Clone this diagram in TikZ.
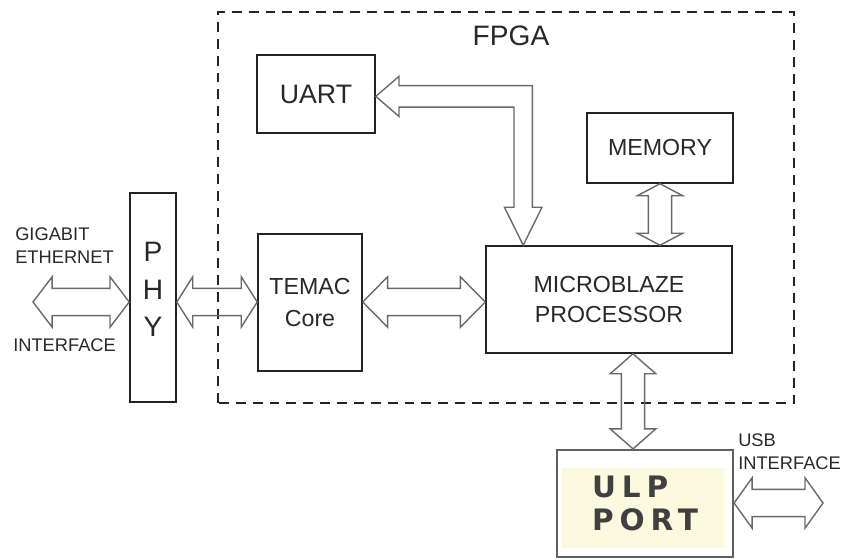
\documentclass[tikz,border=0pt]{standalone}
\usepackage{fontspec}
\setmainfont{Liberation Sans}
\newfontfamily\ulpfont[LetterSpace=20]{DejaVu Sans}
\usepackage{tikz}
\usetikzlibrary{calc, positioning}
\definecolor{boxline}{RGB}{35, 35, 35}
\definecolor{arrowline}{RGB}{105, 105, 105}
\definecolor{ulpyellow}{RGB}{251, 249, 222}
\definecolor{textdark}{RGB}{40, 40, 40}
\tikzset{
    block/.style={rectangle, draw=boxline, line width=1.1pt, fill=white, align=center, text=textdark, inner sep=0pt},
    blockarrow/.style={draw=arrowline, line width=1pt, line join=miter},
    tag/.style={text=textdark, inner sep=0pt, align=left, font=\fontsize{13}{17}\selectfont}
}
% horizontal double block arrow: [head length]{left tip}{right tip}
\newcommand{\harrow}[3][0.5cm]{%
  \draw[blockarrow] let \p1=#2, \p2=#3 in
    (\x1,\y1) -- (\x1+#1,\y1+0.63cm) -- (\x1+#1,\y1+0.34cm) -- (\x2-#1,\y1+0.34cm) -- (\x2-#1,\y1+0.63cm)
    -- (\x2,\y1) -- (\x2-#1,\y1-0.63cm) -- (\x2-#1,\y1-0.34cm) -- (\x1+#1,\y1-0.34cm) -- (\x1+#1,\y1-0.63cm) -- cycle;}
% vertical double block arrow: [head length]{top tip}{bottom tip}
\newcommand{\varrow}[3][0.5cm]{%
  \draw[blockarrow] let \p1=#2, \p2=#3 in
    (\x1,\y1) -- (\x1+0.57cm,\y1-#1) -- (\x1+0.29cm,\y1-#1) -- (\x1+0.29cm,\y2+#1) -- (\x1+0.57cm,\y2+#1)
    -- (\x1,\y2) -- (\x1-0.57cm,\y2+#1) -- (\x1-0.29cm,\y2+#1) -- (\x1-0.29cm,\y1-#1) -- (\x1-0.57cm,\y1-#1) -- cycle;}

\begin{document}
\begin{tikzpicture}
    \useasboundingbox (0,0) rectangle (21.125,14);

    % --- FPGA REGION ---
    \draw[boxline, line width=1.4pt, dash pattern=on 7pt off 5pt] (5.45,3.925) rectangle (19.85,13.7);
    \node[font=\fontsize{20}{24}\selectfont, text=textdark] (fpga) at (12.775,13.11) {FPGA};

    % --- BLOCKS ---
    \node[block, minimum width=2.95cm, minimum height=1.95cm, font=\fontsize{19}{23}\selectfont] (uart) at (7.9,11.65) {UART};
    \node[block, minimum width=3.65cm, minimum height=1.75cm, font=\fontsize{16.5}{20}\selectfont] (memory) at (16.5,10.3) {MEMORY};
    \node[block, minimum width=6.15cm, minimum height=2.675cm, font=\fontsize{16.5}{21}\selectfont] (micro) at (15.225,6.5125) {MICROBLAZE\\PROCESSOR};
    \node[block, minimum width=2.6cm, minimum height=3.425cm, font=\fontsize{16.5}{22.5}\selectfont] (temac) at (7.75,6.4375) {TEMAC\\Core};
    \node[block, minimum width=1.15cm, minimum height=5.225cm, text depth=0.4cm, font=\fontsize{20}{26.5}\selectfont] (phy) at (3.825,6.5625) {P\\H\\Y};

    % ULP port with its yellow panel
    \node[block, draw=gray!75!black, line width=1.6pt, minimum width=4.4cm, minimum height=2.675cm, align=left, text=black!75,
          font=\fontsize{21}{24}\selectfont\ulpfont\bfseries,
          path picture={\fill[ulpyellow] ($(path picture bounding box.south west)+(0.125,0.225)$) rectangle ($(path picture bounding box.north east)+(-0.2,-0.45)$);}]
          (ulp) at (16.125,1.4125) {ULP\\PORT};

    % --- LABELS ---
    \node[tag, anchor=north west] (giga) at (0.375,8.325) {GIGABIT\\ETHERNET};
    \node[tag, anchor=base west] (gigaif) at (0.325,5.2) {INTERFACE};
    \node[tag, anchor=north west] (usb) at (18.45,3.175) {USB\\INTERFACE};

    % --- CONNECTORS ---
    \coordinate (ethend) at (0.825,6.45);
    \coordinate (usbend) at (20.575,1.425);
    \coordinate (uartin) at ([xshift=0.95cm]micro.north west);

    \harrow[0.48cm]{(ethend)}{(phy.west)}
    \harrow[0.4cm]{(phy.east |- ethend)}{(temac.west)}
    \harrow[0.62cm]{(temac.east |- ethend)}{(micro.west)}
    \varrow[0.3cm]{(memory.south)}{(micro.north)}
    \varrow{([xshift=-0.3cm]ulp.north |- micro.south)}{(ulp.north)}
    \harrow[0.45cm]{(ulp.east |- usbend)}{(usbend)}

    % UART <-> processor elbow
    \draw[blockarrow] let \p1=([yshift=-0.06cm]uart.east), \p2=(uartin) in
        (\x1,\y1) -- (\x1+0.58cm,\y1+0.5cm) -- (\x1+0.58cm,\y1+0.27cm) -- (\x2+0.23cm,\y1+0.27cm)
        -- (\x2+0.23cm,\y2+0.95cm) -- (\x2+0.47cm,\y2+0.95cm) -- (\x2,\y2) -- (\x2-0.47cm,\y2+0.95cm)
        -- (\x2-0.23cm,\y2+0.95cm) -- (\x2-0.23cm,\y1-0.27cm) -- (\x1+0.58cm,\y1-0.27cm) -- (\x1+0.58cm,\y1-0.5cm) -- cycle;

\end{tikzpicture}
\end{document}
